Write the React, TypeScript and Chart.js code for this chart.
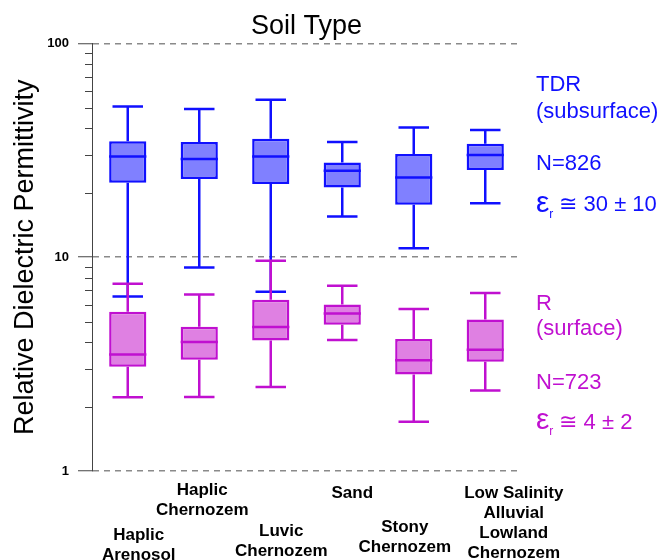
import React, { useEffect, useRef } from 'react';
import { Chart, registerables } from 'chart.js';

Chart.register(...registerables);

// ---------- data ----------
const categories: string[][] = [
  ['Haplic', 'Arenosol'],
  ['Haplic', 'Chernozem'],
  ['Luvic', 'Chernozem'],
  ['Sand'],
  ['Stony', 'Chernozem'],
  ['Low Salinity', 'Alluvial', 'Lowland', 'Chernozem'],
];

// TDR (subsurface)
const tdrMin = [6.55, 8.96, 6.9, 15.5, 11.0, 17.9];
const tdrQ1 = [22.3, 23.2, 22.0, 21.2, 17.6, 25.6];
const tdrMedian = [29.6, 28.8, 29.6, 25.4, 23.6, 30.1];
const tdrQ3 = [34.9, 34.6, 35.8, 27.7, 30.4, 33.9];
const tdrMax = [50.7, 49.4, 54.5, 34.6, 40.4, 39.4];

// R (surface)
const rMin = [2.21, 2.22, 2.47, 4.1, 1.7, 2.38];
const rQ1 = [3.07, 3.31, 4.08, 4.83, 2.83, 3.24];
const rMedian = [3.51, 4.01, 4.71, 5.45, 3.3, 3.69];
const rQ3 = [5.55, 4.73, 6.32, 6.01, 4.14, 5.11];
const rMax = [7.51, 6.69, 9.63, 7.36, 5.72, 6.8];

const yTicks = [1, 10, 100];

const tdrNotes = ['TDR', '(subsurface)', 'N=826'];
const tdrEps = ' \u2245 30 \u00B1 10';
const rNotes = ['R', '(surface)', 'N=723'];
const rEps = ' \u2245 4 \u00B1 2';

// ---------- styles ----------
const FONT = "Arial, 'Liberation Sans', sans-serif";
const BLUE = '#1010FF';
const BLUE_FILL = '#8080FF';
const MAG = '#C010D0';
const MAG_FILL = '#DF80E2';
// label layout: [x offset from category centre, y of first line centre]
const LABEL_DX = [11, 3, 10.5, 10, -9, 28.5];
const LABEL_Y = [535, 490, 531.5, 493, 527.5, 493];
// note rows (offset from chart top)
const TDR_ROWS = [42, 69, 121, 162];
const R_ROWS = [260.5, 286, 339.5, 379.5];

const series = [
  { color: BLUE, min: tdrMin, q1: tdrQ1, med: tdrMedian, q3: tdrQ3, max: tdrMax, ds: 1 },
  { color: MAG, min: rMin, q1: rQ1, med: rMedian, q3: rQ3, max: rMax, ds: 0 },
];

const boxPlugin = {
  id: 'boxWhiskers',
  afterDatasetsDraw(chart: any) {
    const { ctx } = chart;
    const x = chart.scales.x;
    const y = chart.scales.y;
    ctx.save();
    ctx.lineWidth = 2.5;
    ctx.lineCap = 'butt';
    for (const s of series) {
      const meta = chart.getDatasetMeta(s.ds);
      ctx.strokeStyle = s.color;
      for (let i = 0; i < categories.length; i++) {
        const cx = x.getPixelForValue(i);
        const bw = meta.data[i].width / 2;
        const cap = bw * 0.82;
        const yMin = y.getPixelForValue(s.min[i]);
        const yQ1 = y.getPixelForValue(s.q1[i]);
        const yMed = y.getPixelForValue(s.med[i]);
        const yQ3 = y.getPixelForValue(s.q3[i]);
        const yMax = y.getPixelForValue(s.max[i]);
        ctx.beginPath();
        ctx.moveTo(cx, yQ3);
        ctx.lineTo(cx, yMax);
        ctx.moveTo(cx - cap, yMax);
        ctx.lineTo(cx + cap, yMax);
        ctx.moveTo(cx, yQ1);
        ctx.lineTo(cx, yMin);
        ctx.moveTo(cx - cap, yMin);
        ctx.lineTo(cx + cap, yMin);
        ctx.moveTo(cx - bw, yMed);
        ctx.lineTo(cx + bw, yMed);
        ctx.stroke();
      }
    }
    ctx.restore();
  },
  afterDraw(chart: any) {
    const { ctx, chartArea } = chart;
    const x = chart.scales.x;
    const y = chart.scales.y;
    ctx.save();
    // minor ticks on y axis
    ctx.strokeStyle = '#444';
    ctx.lineWidth = 1;
    ctx.beginPath();
    for (let d = 1; d < 100; d *= 10) {
      for (let m = 2; m <= 9; m++) {
        const py = Math.round(y.getPixelForValue(d * m)) + 0.5;
        ctx.moveTo(chartArea.left - 7, py);
        ctx.lineTo(chartArea.left, py);
      }
    }
    ctx.stroke();

    // category labels
    ctx.fillStyle = '#000';
    ctx.font = `bold 17px ${FONT}`;
    ctx.textAlign = 'center';
    ctx.textBaseline = 'middle';
    categories.forEach((lines, i) => {
      const cx = x.getPixelForValue(i) + LABEL_DX[i];
      lines.forEach((t, k) => ctx.fillText(t, cx, LABEL_Y[i] + k * 20));
    });

    // notes
    const lx = chartArea.right + 15;
    ctx.textAlign = 'left';
    const drawNotes = (notes: string[], eps: string, rows: number[], color: string) => {
      ctx.fillStyle = color;
      ctx.font = `22px ${FONT}`;
      notes.forEach((t, k) => ctx.fillText(t, lx, chartArea.top + rows[k]));
      const ey = chartArea.top + rows[3];
      ctx.font = `30px ${FONT}`;
      ctx.fillText('\u03B5', lx, ey - 2);
      const w1 = ctx.measureText('\u03B5').width;
      ctx.font = `12px ${FONT}`;
      ctx.fillText('r', lx + w1, ey + 9);
      const w2 = ctx.measureText('r').width;
      ctx.font = `22px ${FONT}`;
      ctx.fillText(eps, lx + w1 + w2, ey);
    };
    drawNotes(tdrNotes, tdrEps, TDR_ROWS, BLUE);
    drawNotes(rNotes, rEps, R_ROWS, MAG);
    ctx.restore();
  },
};

export default function App() {
  const ref = useRef<HTMLCanvasElement>(null);
  useEffect(() => {
    document.body.style.margin = '0';
    const canvas = ref.current!;
    Chart.defaults.font.family = FONT;
    const chart = new Chart(canvas, {
      type: 'bar',
      data: {
        labels: categories.map((c) => c.join(' ')),
        datasets: [
          {
            label: 'R (surface)',
            data: rQ1.map((q, i) => [q, rQ3[i]]) as any,
            backgroundColor: MAG_FILL,
            borderColor: MAG,
            borderWidth: 2.5,
            borderSkipped: false,
            grouped: false,
            barPercentage: 0.52,
            categoryPercentage: 1,
          },
          {
            label: 'TDR (subsurface)',
            data: tdrQ1.map((q, i) => [q, tdrQ3[i]]) as any,
            backgroundColor: BLUE_FILL,
            borderColor: BLUE,
            borderWidth: 2.5,
            borderSkipped: false,
            grouped: false,
            barPercentage: 0.52,
            categoryPercentage: 1,
          },
        ],
      },
      options: {
        responsive: false,
        animation: false,
        layout: { padding: { left: 0, right: 147, top: 0, bottom: 81 } },
        plugins: {
          legend: { display: false },
          tooltip: { enabled: false },
          title: {
            display: true,
            text: 'Soil Type',
            fullSize: false,
            color: '#000',
            font: { size: 27, weight: 'normal', family: FONT },
            padding: { top: 10, bottom: 1 },
          },
        },
        scales: {
          x: {
            type: 'category',
            offset: true,
            grid: { display: false },
            border: { display: false },
            ticks: { display: false },
          },
          y: {
            type: 'logarithmic',
            min: 1,
            max: 100,
            afterBuildTicks: (s: any) => {
              s.ticks = yTicks.map((v) => ({ value: v }));
            },
            afterFit: (s: any) => {
              s.width = 92;
            },
            border: { display: true, color: '#444', width: 1, dash: [6, 5] },
            grid: {
              color: '#8a8a8a',
              lineWidth: 1.5,
              drawTicks: true,
              tickLength: 14,
              tickColor: '#444',
              tickWidth: 1,
              tickBorderDash: [],
            },
            ticks: {
              autoSkip: false,
              padding: 9,
              color: '#000',
              font: { size: 13, weight: 'bold', family: FONT },
              callback: (v: any) => String(v),
            },
            title: {
              display: true,
              text: 'Relative Dielectric Permittivity',
              color: '#000',
              font: { size: 27, weight: 'normal', family: FONT },
              padding: { top: 9, bottom: 0 },
            },
          },
        },
      },
      plugins: [boxPlugin],
    });
    return () => chart.destroy();
  }, []);
  return (
    <div style={{ width: 668, height: 560 }}>
      <canvas ref={ref} width={668} height={560} style={{ display: 'block' }} />
    </div>
  );
}
